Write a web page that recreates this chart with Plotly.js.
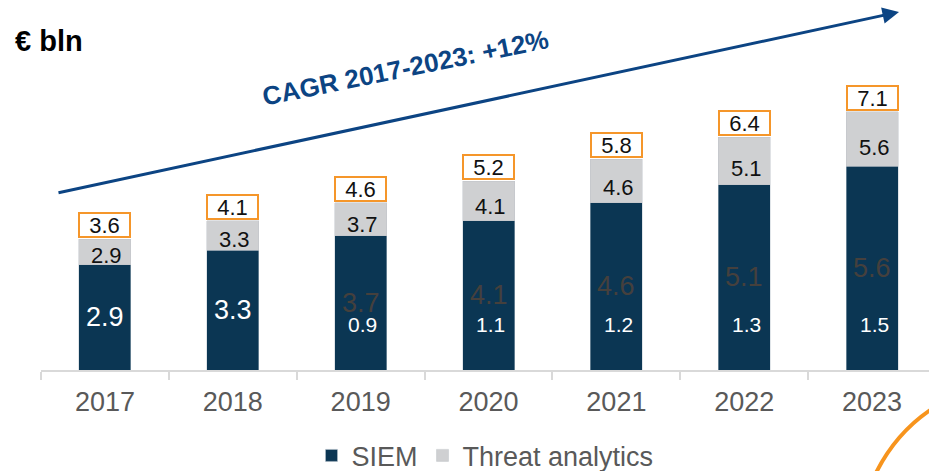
<!DOCTYPE html>
<html>
<head>
<meta charset="utf-8">
<script src="https://cdn.plot.ly/plotly-3.0.1.min.js"></script>
<style>html,body{margin:0;padding:0;background:#fff;}#chart{width:929px;height:471px;}</style>
</head>
<body>
<div id="chart"></div>
<script>
// ---- data ----
const years = ['2017', '2018', '2019', '2020', '2021', '2022', '2023'];
const siem = [2.9, 3.3, 3.7, 4.1, 4.6, 5.1, 5.6];
const threat = [0.7, 0.8, 0.9, 1.1, 1.2, 1.3, 1.5];
const totals = [3.6, 4.1, 4.6, 5.2, 5.8, 6.4, 7.1];
// labels as printed on the original slide
const greyLabels = ['2.9', '3.3', '3.7', '4.1', '4.6', '5.1', '5.6'];
const darkBigLabels = ['2.9', '3.3', '', '', '', '', ''];
const ghostLabels = ['', '', '3.7', '4.1', '4.6', '5.1', '5.6'];
const darkSmallLabels = ['', '', '0.9', '1.1', '1.2', '1.3', '1.5'];
const unitLabel = '€ bln';
const cagrLabel = 'CAGR 2017-2023: +12%';

// ---- style ----
const FONT = '"Liberation Sans", Arial, sans-serif';
const NAVY = '#0b3653';
const GREY = '#cfd0d2';
const ORANGE = '#f5962a';
const BLUE = '#0c4483';

const traces = [
  {
    type: 'bar', name: 'SIEM', x: years, y: siem,
    marker: {color: NAVY, line: {color: 'rgba(190,200,210,0.6)', width: 0.8}},
    hoverinfo: 'skip'
  },
  {
    type: 'bar', name: 'Threat analytics', x: years, y: threat,
    marker: {color: GREY, line: {color: 'rgba(190,195,200,0.6)', width: 0.8}},
    hoverinfo: 'skip'
  }
];

const ann = [];
years.forEach((yr, i) => {
  // category axis: annotation x is the category's serial number
  const cx = i;
  // total in orange box
  ann.push({
    x: cx, y: totals[i], xref: 'x', yref: 'y', text: totals[i].toFixed(1),
    showarrow: false, yanchor: 'bottom', xanchor: 'center', yshift: 1,
    width: 47, height: 20, borderpad: 1, borderwidth: 2,
    bordercolor: ORANGE, bgcolor: '#ffffff',
    font: {family: FONT, size: 22, color: '#111111'}
  });
  // label in grey segment
  ann.push({
    x: cx, y: siem[i] + threat[i] * 0.35, xref: 'x', yref: 'y', text: greyLabels[i],
    showarrow: false, yanchor: 'middle', xanchor: 'center', xshift: 2,
    font: {family: FONT, size: 22, color: '#111111'}
  });
  if (darkBigLabels[i]) {
    ann.push({
      x: cx, y: siem[i] / 2, xref: 'x', yref: 'y', text: darkBigLabels[i],
      showarrow: false, yanchor: 'middle', xanchor: 'center',
      font: {family: FONT, size: 27, color: '#ffffff'}
    });
  }
  if (ghostLabels[i]) {
    ann.push({
      x: cx, y: siem[i] / 2, xref: 'x', yref: 'y', text: ghostLabels[i],
      showarrow: false, yanchor: 'middle', xanchor: 'center', yshift: 0,
      font: {family: FONT, size: 27, color: '#45403d'}
    });
  }
  if (darkSmallLabels[i]) {
    ann.push({
      x: cx, y: 0, xref: 'x', yref: 'y', text: darkSmallLabels[i],
      showarrow: false, yanchor: 'middle', xanchor: 'center', yshift: 46, xshift: 2,
      font: {family: FONT, size: 21, color: '#ffffff'}
    });
  }
});

// unit label
ann.push({
  xref: 'paper', yref: 'paper', x: -0.031, y: 0.888, xanchor: 'left', yanchor: 'middle',
  text: '<b>' + unitLabel + '</b>', showarrow: false,
  font: {family: FONT, size: 29, color: '#000000'}
});
// CAGR arrow
ann.push({
  xref: 'paper', yref: 'paper', x: 0.9662, y: 0.9676, ax: -842, ay: 181,
  axref: 'pixel', ayref: 'pixel', text: '', showarrow: true,
  arrowhead: 2, arrowsize: 1.1, arrowwidth: 3, arrowcolor: BLUE
});
// CAGR text
ann.push({
  xref: 'paper', yref: 'paper', x: 0.41, y: 0.815, xanchor: 'center', yanchor: 'middle',
  text: '<b>' + cagrLabel + '</b>', showarrow: false, textangle: -11.5,
  font: {family: FONT, size: 26, color: BLUE}
});

const layout = {
  width: 929, height: 471, autosize: false,
  margin: {l: 41, r: 0, t: 0, b: 101, pad: 0, autoexpand: false},
  paper_bgcolor: '#ffffff', plot_bgcolor: '#ffffff',
  font: {family: FONT, color: '#595959'},
  barmode: 'stack', bargap: 0.593,
  showlegend: true,
  legend: {
    orientation: 'h', x: 0.5, xanchor: 'center', y: -0.232, yanchor: 'middle',
    font: {family: FONT, size: 27, color: '#595959'}, traceorder: 'normal',
    itemwidth: 30, bgcolor: 'rgba(0,0,0,0)'
  },
  xaxis: {
    type: 'category', range: [-0.5, 6.445], fixedrange: true, automargin: false,
    showline: true, linecolor: '#d9d9d9', linewidth: 2,
    ticks: 'outside', tickson: 'boundaries', ticklen: 8, tickwidth: 2, tickcolor: '#d9d9d9',
    ticklabelstandoff: 7,
    tickfont: {family: FONT, size: 27, color: '#595959'},
    showgrid: false, zeroline: false
  },
  yaxis: {
    range: [0, 10.18], visible: false, fixedrange: true, showgrid: false, zeroline: false
  },
  annotations: ann,
  shapes: [
    {
      type: 'path', xref: 'paper', yref: 'paper',
      path: 'M 0.9381,-0.289 Q 0.9627,-0.1638 1.01,-0.095',
      line: {color: '#f7941d', width: 4}
    }
  ]
};

Plotly.newPlot('chart', traces, layout, {staticPlot: true, displayModeBar: false});
</script>
</body>
</html>
